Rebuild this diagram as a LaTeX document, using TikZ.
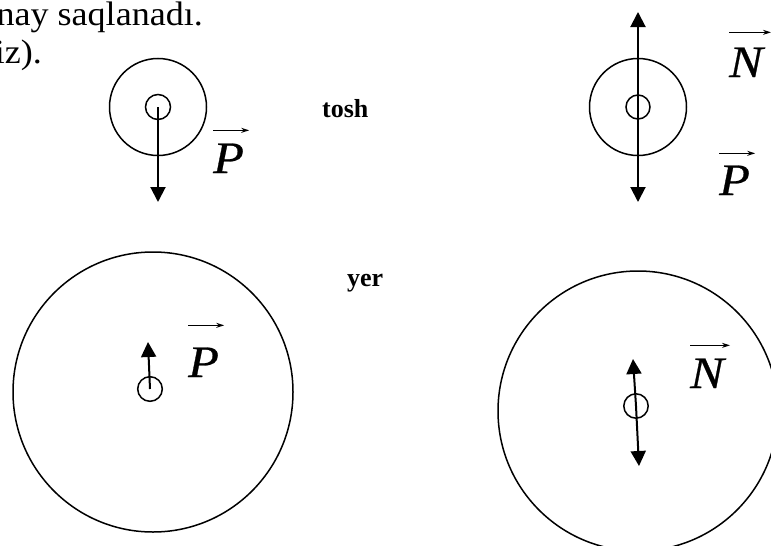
\documentclass[tikz,border=0pt]{standalone}
\usepackage{fontspec}
\setmainfont{Liberation Serif}
\newfontfamily\parafont{Liberation Serif}[FakeStretch=1.06]
\newfontfamily\lblfont{Liberation Serif}[FakeStretch=1.12,FakeBold=0.6]
\usetikzlibrary{arrows.meta}
\begin{document}
\begin{tikzpicture}[x=1pt,y=-1pt,
  ring/.style={circle,draw,line width=1.5pt,inner sep=0pt},
  force/.style={line width=2pt,-{Triangle[length=15pt,width=15pt]}},
  vecarr/.style={line width=1.2pt,-{Stealth[length=8pt,width=5pt]}},
  vlabel/.style={inner sep=0pt,anchor=base west,font=\lblfont\fontsize{45}{45}\selectfont\itshape},
  word/.style={inner sep=0pt,anchor=base west,font=\fontsize{26}{26}\selectfont\bfseries},
  para/.style={inner sep=0pt,anchor=base east,font=\parafont\fontsize{34}{34}\selectfont}]
\useasboundingbox (0,0) rectangle (771,546);
\clip (0,0) rectangle (771,546);
% text fragments
\node[para] (t1) at (203,25) {nay saqlanadı.};
\node[para] (t2) at (42,63) {iz).};
\node[word] (tosh) at (322,117) {tosh};
\node[word] (yer) at (347,286) {yer};
% top-left stone
\node[ring,minimum size=97pt] (tlo) at (158,107) {};
\node[ring,minimum size=25pt] (tli) at (158,107) {};
\coordinate (tlb) at (158,202);
\draw[force] (tli.center) -- (tlb);
\node[vlabel] (p1) at (213,173) {P};
\draw[vecarr] ([yshift=13pt]p1.north west) -- ([yshift=13pt,xshift=5pt]p1.north east);
% top-right stone
\node[ring,minimum size=97pt] (tro) at (638,107) {};
\node[ring,minimum size=24pt] (tri) at (638,107) {};
\coordinate (trt) at (638,12);
\coordinate (trb) at (638,202);
\draw[force] (tri.center) -- (trt);
\draw[force] (tri.center) -- (trb);
\node[vlabel] (n1) at (729,77) {N};
\draw[vecarr] ([yshift=15pt]n1.north west) -- ([yshift=15pt,xshift=8pt]n1.north east);
\node[vlabel] (p2) at (719,195) {P};
\draw[vecarr] ([yshift=12pt]p2.north west) -- ([yshift=12pt,xshift=5pt]p2.north east);
% bottom-left earth
\node[ring,minimum size=280pt] (blo) at (153,392) {};
\node[ring,minimum size=24.6pt] (bli) at (150,389) {};
\coordinate (blt) at (148,342);
\draw[force] (bli.center) -- (blt);
\node[vlabel] (p3) at (188,377) {P};
\draw[vecarr] ([yshift=22pt]p3.north west) -- ([yshift=22pt,xshift=5pt]p3.north east);
% bottom-right earth
\node[ring,minimum size=280pt] (bro) at (638,411) {};
\node[ring,minimum size=24.4pt] (bri) at (636,406) {};
\coordinate (brt) at (633,359);
\coordinate (brb) at (639,466);
\draw[force] (bri.center) -- (brt);
\draw[force] (bri.center) -- (brb);
\node[vlabel] (n2) at (690,388) {N};
\draw[vecarr] ([yshift=13pt]n2.north west) -- ([yshift=13pt,xshift=6pt]n2.north east);
\end{tikzpicture}
\end{document}
